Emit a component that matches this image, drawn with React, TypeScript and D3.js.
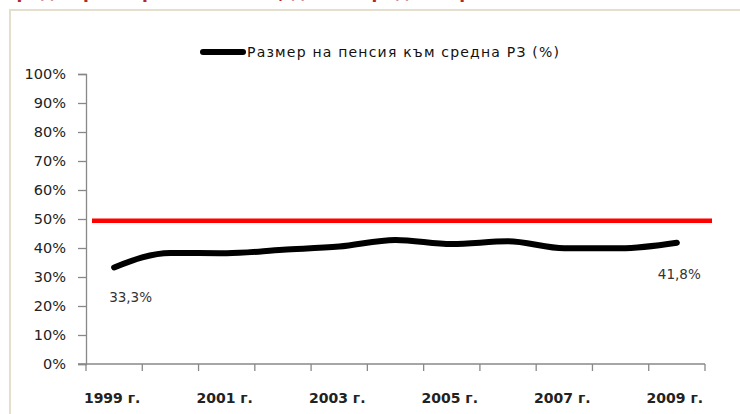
import React, { useEffect, useRef } from 'react'
import * as d3 from 'd3'

// data
const years = ['1999', '2000', '2001', '2002', '2003', '2004', '2005', '2006', '2007', '2008', '2009']
const pensionRatio = [33.3, 38.3, 38.2, 39.4, 40.5, 42.8, 41.4, 42.3, 39.9, 39.9, 41.8]
const thresholdValue = [49.4]
const yTicks = [0, 10, 20, 30, 40, 50, 60, 70, 80, 90, 100]
const labeledYears = ['1999', '2001', '2003', '2005', '2007', '2009']
const seriesName = 'Размер на пенсия към средна РЗ (%)'
const titleText = 'Среден размер на пенсията, дял от средната работна заплата'

const W = 740
const H = 414

const App = () => {
  const node = useRef<SVGSVGElement | null>(null)

  useEffect(() => {
    const svg = d3.select(node.current)
    svg.selectAll('*').remove()

    const font = '"DejaVu Sans", Verdana, sans-serif'

    // title sits above the crop, only its descenders show
    svg.append('text')
      .attr('x', 4)
      .attr('y', -2)
      .attr('fill', '#b02828')
      .attr('font-family', font)
      .attr('font-size', '17px')
      .attr('font-weight', 'bold')
      .text(titleText)

    // chart area frame
    svg.append('rect')
      .attr('x', 10)
      .attr('y', 10)
      .attr('width', W)
      .attr('height', H)
      .attr('fill', '#fff')
      .attr('stroke', '#e4dfcc')
      .attr('stroke-width', 2)

    const x = d3.scaleBand().domain(years).range([86, 705])
    const y = d3.scaleLinear().domain([0, 100]).range([364, 74])
    const cx = (d: string) => (x(d) as number) + x.bandwidth() / 2

    // Y-axis
    const yAxis = svg.append('g')
      .attr('transform', 'translate(86,0)')
      .call(d3.axisLeft(y).tickValues(yTicks).tickSize(8).tickFormat(d => `${d}%`))
    yAxis.select('.domain').attr('stroke', '#888').attr('stroke-width', 1.3)
    yAxis.selectAll('.tick line').attr('stroke', '#888').attr('stroke-width', 1.3)
    yAxis.selectAll('.tick text')
      .attr('x', -20)
      .attr('fill', '#222')
      .attr('font-family', font)
      .attr('font-size', '14.5px')

    // X-axis: ticks on band edges, labels every second year
    const xAxis = svg.append('g').attr('transform', 'translate(0,364)')
    xAxis.append('line')
      .attr('x1', 78).attr('x2', 705)
      .attr('stroke', '#888').attr('stroke-width', 1.3)
    const edges = years.map(d => x(d) as number).concat([705])
    xAxis.selectAll('line.tick')
      .data(edges)
      .enter()
      .append('line')
      .attr('class', 'tick')
      .attr('x1', d => d).attr('x2', d => d)
      .attr('y1', 0).attr('y2', 7)
      .attr('stroke', '#888').attr('stroke-width', 1.3)
    xAxis.selectAll('text')
      .data(labeledYears)
      .enter()
      .append('text')
      .attr('x', d => cx(d) - 2)
      .attr('y', 39)
      .attr('text-anchor', 'middle')
      .attr('fill', '#222')
      .attr('font-family', font)
      .attr('font-size', '14px')
      .attr('font-weight', 'bold')
      .text(d => `${d} г.`)

    // red reference line
    svg.append('line')
      .attr('x1', 92)
      .attr('x2', 712)
      .attr('y1', y(thresholdValue[0]))
      .attr('y2', y(thresholdValue[0]))
      .attr('stroke', '#ff0000')
      .attr('stroke-width', 4.5)

    // series line
    const line = d3.line<number>()
      .x((d, i) => cx(years[i]))
      .y(d => y(d))
      .curve(d3.curveMonotoneX)

    svg.append('path')
      .datum(pensionRatio)
      .attr('fill', 'none')
      .attr('stroke', '#000')
      .attr('stroke-width', 6)
      .attr('stroke-linecap', 'round')
      .attr('stroke-linejoin', 'round')
      .attr('d', line)

    // data labels for first and last point
    const last = pensionRatio.length - 1
    const fmt = (v: number) => `${v.toFixed(1).replace('.', ',')}%`
    svg.append('text')
      .attr('x', cx(years[0]) - 5)
      .attr('y', y(pensionRatio[0]) + 35)
      .attr('fill', '#333')
      .attr('font-family', font)
      .attr('font-size', '13.5px')
      .text(fmt(pensionRatio[0]))
    svg.append('text')
      .attr('x', cx(years[last]) - 19)
      .attr('y', y(pensionRatio[last]) + 36)
      .attr('fill', '#333')
      .attr('font-family', font)
      .attr('font-size', '13.5px')
      .text(fmt(pensionRatio[last]))

    // Legend
    svg.append('line')
      .attr('x1', 203).attr('x2', 243)
      .attr('y1', 52).attr('y2', 52)
      .attr('stroke', '#000')
      .attr('stroke-width', 6)
      .attr('stroke-linecap', 'round')
    svg.append('text')
      .attr('x', 247)
      .attr('y', 57)
      .attr('fill', '#111')
      .attr('font-family', font)
      .attr('font-size', '14px')
      .attr('letter-spacing', '1.2px')
      .text(seriesName)
  }, [])

  return (
    <svg ref={node} width={W} height={H}
      style={{ position: 'absolute', left: 0, top: 0, background: '#fff' }}>
    </svg>
  )
}

export default App
